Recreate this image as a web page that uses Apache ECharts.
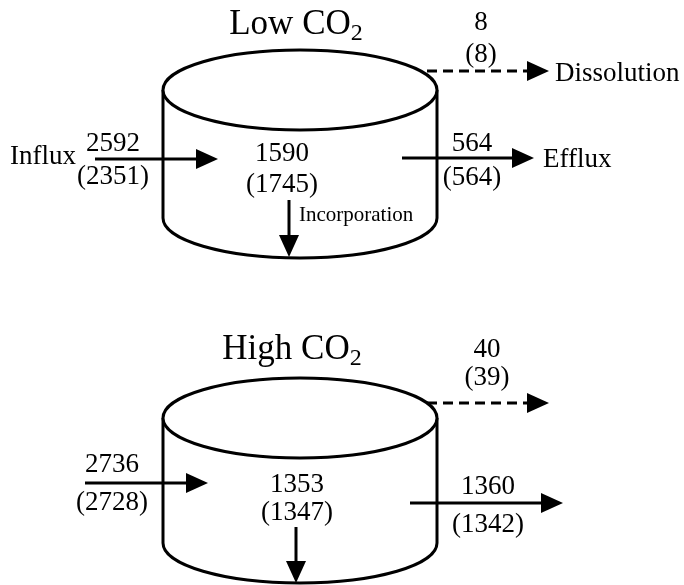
<!DOCTYPE html>
<html>
<head>
<meta charset="utf-8">
<script src="https://cdn.jsdelivr.net/npm/echarts@6/dist/echarts.min.js"></script>
<style>
html, body { margin: 0; padding: 0; background: #fff; }
#main { width: 684px; height: 585px; }
</style>
</head>
<body>
<div id="main"></div>
<script>
// carbon fluxes per scenario, first line model, second line (in brackets) the other estimate
const scenarios = ['Low CO', 'High CO'];
const influx = [2592, 2736];
const influxAlt = [2351, 2728];
const pool = [1590, 1353];
const poolAlt = [1745, 1347];
const efflux = [564, 1360];
const effluxAlt = [564, 1342];
const dissolution = [8, 40];
const dissolutionAlt = [8, 39];
const fluxNames = ['Influx', 'Efflux', 'Dissolution', 'Incorporation'];

// drawing frame = 684 x 585 (y goes down)
const CX = 300, RX = 137, RY = 40;
const layout = [
    {
        top: 90, bottom: 218, title: [296, 25],
        dis: [481, 23, 55], disArrow: [427, 549, 71],
        inf: [113, 144, 177], infArrow: [95, 218, 159],
        pool: [282, 154, 185], inc: [289, 200, 257],
        eff: [472, 144, 178], effArrow: [402, 534, 158],
        names: true
    },
    {
        top: 418, bottom: 543, title: [292, 350],
        dis: [487, 350, 378], disArrow: [427, 549, 403],
        inf: [112, 465, 503], infArrow: [85, 208, 483],
        pool: [297, 485, 513], inc: [296, 527, 583],
        eff: [488, 487, 525], effArrow: [410, 563, 503],
        names: false
    }
];

const FONT = '"Liberation Serif", "Times New Roman", serif';
const LW = 3;
const NUM = 27;

function txt(p, text, size, align) {
    return {
        type: 'text', x: p[0], y: p[1],
        style: {
            text: text, fill: '#000', fontSize: size, fontFamily: FONT,
            font: size + 'px ' + FONT,
            align: align || 'center', verticalAlign: 'middle'
        }
    };
}

// horizontal or vertical arrow, head length 22, half width 10
function arrow(a, b, dashed) {
    const dx = b[0] - a[0], dy = b[1] - a[1];
    const len = Math.sqrt(dx * dx + dy * dy);
    const ux = dx / len, uy = dy / len;
    const hl = 22, hw = 10;
    const base = [b[0] - ux * hl, b[1] - uy * hl];
    return [
        {
            type: 'line',
            shape: { x1: a[0], y1: a[1], x2: base[0] + ux * 2, y2: base[1] + uy * 2 },
            style: { stroke: '#000', lineWidth: LW, lineDash: dashed ? [10, 6] : null }
        },
        {
            type: 'polygon',
            shape: { points: [b, [base[0] - uy * hw, base[1] + ux * hw], [base[0] + uy * hw, base[1] - ux * hw]] },
            style: { fill: '#000' }
        }
    ];
}

function renderItem(params, api) {
    const i = params.dataIndex;
    const L = layout[i];
    const c = (x, y) => api.coord([x, y]);
    const s = api.size([RX, RY]);
    const rx = Math.abs(s[0]), ry = Math.abs(s[1]);
    const t = c(CX, L.top), b = c(CX, L.bottom);
    const l = t[0] - rx, r = t[0] + rx;
    const k = 0.5523;
    const children = [];

    // cylinder body: sides and front half of the bottom
    children.push({ type: 'line', shape: { x1: l, y1: t[1], x2: l, y2: b[1] }, style: { stroke: '#000', lineWidth: LW } });
    children.push({ type: 'line', shape: { x1: r, y1: t[1], x2: r, y2: b[1] }, style: { stroke: '#000', lineWidth: LW } });
    children.push({
        type: 'bezierCurve',
        shape: { x1: l, y1: b[1], cpx1: l, cpy1: b[1] + k * ry, cpx2: b[0] - k * rx, cpy2: b[1] + ry, x2: b[0], y2: b[1] + ry },
        style: { stroke: '#000', lineWidth: LW, fill: null }
    });
    children.push({
        type: 'bezierCurve',
        shape: { x1: b[0], y1: b[1] + ry, cpx1: b[0] + k * rx, cpy1: b[1] + ry, cpx2: r, cpy2: b[1] + k * ry, x2: r, y2: b[1] },
        style: { stroke: '#000', lineWidth: LW, fill: null }
    });
    children.push({
        type: 'ellipse',
        shape: { cx: t[0], cy: t[1], rx: rx, ry: ry },
        style: { fill: '#fff', stroke: '#000', lineWidth: LW }
    });

    // title with subscript 2
    const tp = c(L.title[0], L.title[1]);
    children.push({
        type: 'text', x: tp[0], y: tp[1],
        style: {
            text: scenarios[i] + '{sub|2}', fill: '#000',
            fontSize: 35, fontFamily: FONT, font: '35px ' + FONT,
            align: 'center', verticalAlign: 'middle',
            rich: { sub: { fontSize: 24, fontFamily: FONT, padding: [18, 0, 0, 0] } }
        }
    });

    // dissolution (dashed)
    children.push(txt(c(L.dis[0], L.dis[1]), String(dissolution[i]), NUM));
    children.push(txt(c(L.dis[0], L.dis[2]), '(' + dissolutionAlt[i] + ')', NUM));
    arrow(c(L.disArrow[0], L.disArrow[2]), c(L.disArrow[1], L.disArrow[2]), true).forEach(e => children.push(e));

    // influx
    children.push(txt(c(L.inf[0], L.inf[1]), String(influx[i]), NUM));
    children.push(txt(c(L.inf[0], L.inf[2]), '(' + influxAlt[i] + ')', NUM));
    arrow(c(L.infArrow[0], L.infArrow[2]), c(L.infArrow[1], L.infArrow[2]), false).forEach(e => children.push(e));

    // pool size and incorporation
    children.push(txt(c(L.pool[0], L.pool[1]), String(pool[i]), NUM));
    children.push(txt(c(L.pool[0], L.pool[2]), '(' + poolAlt[i] + ')', NUM));
    arrow(c(L.inc[0], L.inc[1]), c(L.inc[0], L.inc[2]), false).forEach(e => children.push(e));

    // efflux
    children.push(txt(c(L.eff[0], L.eff[1]), String(efflux[i]), NUM));
    children.push(txt(c(L.eff[0], L.eff[2]), '(' + effluxAlt[i] + ')', NUM));
    arrow(c(L.effArrow[0], L.effArrow[2]), c(L.effArrow[1], L.effArrow[2]), false).forEach(e => children.push(e));

    if (L.names) {
        children.push(txt(c(10, 157), fluxNames[0], 27, 'left'));
        children.push(txt(c(543, 160), fluxNames[1], 27, 'left'));
        children.push(txt(c(555, 74), fluxNames[2], 27, 'left'));
        children.push(txt(c(299, 215), fluxNames[3], 21, 'left'));
    }

    return { type: 'group', children: children };
}

const chart = echarts.init(document.getElementById('main'));
chart.setOption({
    animation: false,
    backgroundColor: '#fff',
    grid: { left: 0, right: 0, top: 0, bottom: 0 },
    xAxis: { type: 'value', min: 0, max: 684, show: false },
    yAxis: { type: 'value', min: 0, max: 585, inverse: true, show: false },
    series: [{
        type: 'custom',
        coordinateSystem: 'cartesian2d',
        silent: true,
        clip: false,
        renderItem: renderItem,
        data: scenarios.map((s, i) => [i, i])
    }]
});
</script>
</body>
</html>
